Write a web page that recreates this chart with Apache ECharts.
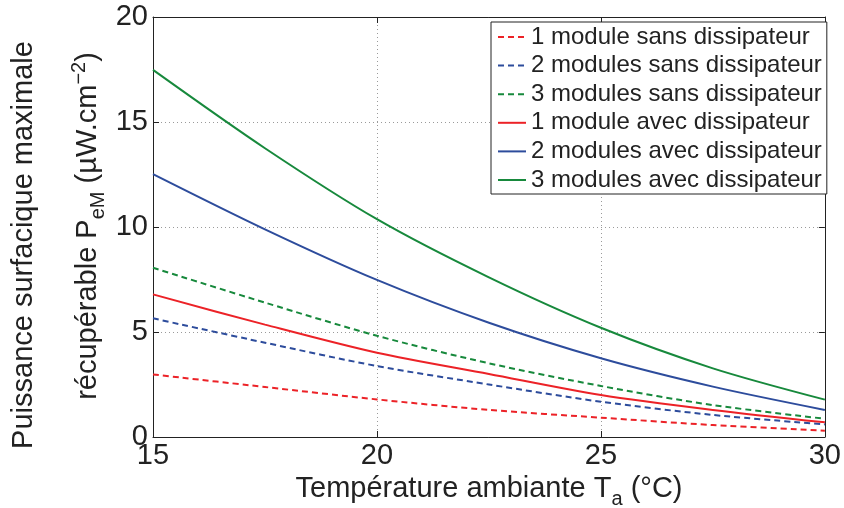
<!DOCTYPE html>
<html>
<head>
<meta charset="utf-8">
<script src="https://cdn.jsdelivr.net/npm/echarts@6/dist/echarts.min.js"></script>
<style>
html,body{margin:0;padding:0;background:#fff;}
#chart{width:844px;height:508px;}
</style>
</head>
<body>
<div id="chart"></div>
<script>
// Data
var temperatures = [15, 17.5, 20, 22.5, 25, 27.5, 30];
var seriesNames = [
  '1 module sans dissipateur',
  '2 modules sans dissipateur',
  '3 modules sans dissipateur',
  '1 module avec dissipateur',
  '2 modules avec dissipateur',
  '3 modules avec dissipateur'
];
var oneSans   = [2.98, 2.38, 1.79, 1.29, 0.92, 0.57, 0.30];
var twoSans   = [5.65, 4.49, 3.38, 2.50, 1.68, 1.05, 0.60];
var threeSans = [8.06, 6.40, 4.82, 3.51, 2.43, 1.52, 0.87];
var oneAvec   = [6.79, 5.35, 4.01, 3.00, 2.00, 1.29, 0.70];
var twoAvec   = [12.52, 9.89, 7.48, 5.44, 3.75, 2.40, 1.29];
var threeAvec = [17.48, 13.75, 10.37, 7.60, 5.20, 3.27, 1.78];
var xTicks = [15, 20, 25, 30];
var yTicks = [0, 5, 10, 15, 20];

var RED = '#ec2227', BLUE = '#2d4c9c', GREEN = '#17893c';
var FONT = '"Liberation Sans", Arial, Helvetica, sans-serif';
var TXT = '#222';

function pairs(vals) {
  return temperatures.map(function (t, i) { return [t, vals[i]]; });
}
var allData = [oneSans, twoSans, threeSans, oneAvec, twoAvec, threeAvec];
var colors = [RED, BLUE, GREEN, RED, BLUE, GREEN];
var dashed = [true, true, true, false, false, false];

var series = allData.map(function (vals, i) {
  return {
    name: seriesNames[i],
    type: 'line',
    data: pairs(vals),
    smooth: 0.3,
    showSymbol: false,
    symbol: 'none',
    animation: false,
    color: colors[i],
    itemStyle: { color: colors[i] },
    lineStyle: { color: colors[i], width: 2, type: dashed[i] ? [6, 4] : 'solid' }
  };
});

var chart = echarts.init(document.getElementById('chart'), null, { renderer: 'canvas' });
function axisCommon() {
  return {
    axisLine: { show: true, onZero: false, lineStyle: { color: '#222', width: 1 } },
    axisTick: { show: true, inside: true, length: 6, lineStyle: { color: '#222' } }
  };
}
chart.setOption({
  animation: false,
  backgroundColor: '#fff',
  grid: { left: 153, right: 16, top: 17, bottom: 71, show: false },
  xAxis: [
    Object.assign({
      type: 'value', min: xTicks[0], max: xTicks[xTicks.length - 1], interval: 5,
      axisLabel: { color: TXT, fontFamily: FONT, fontSize: 29, margin: 4 },
      splitLine: { show: true, lineStyle: { color: '#9a9a9a', type: [1, 3], width: 1 } }
    }, axisCommon()),
    Object.assign({
      type: 'value', position: 'top', min: xTicks[0], max: xTicks[xTicks.length - 1], interval: 5,
      axisLabel: { show: false }, splitLine: { show: false }
    }, axisCommon())
  ],
  yAxis: [
    Object.assign({
      type: 'value', min: yTicks[0], max: yTicks[yTicks.length - 1], interval: 5,
      axisLabel: { color: TXT, fontFamily: FONT, fontSize: 29, margin: 5 },
      splitLine: { show: true, lineStyle: { color: '#9a9a9a', type: [1, 3], width: 1 } }
    }, axisCommon()),
    Object.assign({
      type: 'value', position: 'right', min: yTicks[0], max: yTicks[yTicks.length - 1], interval: 5,
      axisLabel: { show: false }, splitLine: { show: false }
    }, axisCommon())
  ],
  legend: {
    show: true,
    orient: 'vertical',
    left: 491, top: 22,
    padding: [3, 5, 2, 6],
    itemGap: 4.6,
    itemWidth: 28,
    itemHeight: 14,
    itemTextGap: 3,
    backgroundColor: '#fff',
    borderColor: '#222',
    borderWidth: 1,
    itemStyle: { opacity: 0, borderWidth: 0 },
    textStyle: { color: TXT, fontFamily: FONT, fontSize: 24, lineHeight: 24 },
    data: seriesNames
  },
  graphic: [
    {
      type: 'text', x: 24, y: 245, rotation: Math.PI / 2,
      style: { text: 'Puissance surfacique maximale', fill: TXT, font: '29px ' + FONT, align: 'center', verticalAlign: 'middle' }
    },
    {
      type: 'text', x: 88, y: 226, rotation: Math.PI / 2,
      style: {
        text: '{m|récupérable P}{sub|eM}{m| (µW.cm}{sup|−2}{m|)}',
        align: 'center', verticalAlign: 'middle',
        rich: {
          m: { fontFamily: FONT, fontSize: 29, fill: TXT, color: TXT },
          sub: { fontFamily: FONT, fontSize: 20, fill: TXT, color: TXT, padding: [20, 0, 0, 0] },
          sup: { fontFamily: FONT, fontSize: 20, fill: TXT, color: TXT, padding: [0, 0, 18, 0] }
        }
      }
    },
    {
      type: 'text', x: 489, y: 489,
      style: {
        text: '{m|Température ambiante T}{sub|a}{m| (°C)}',
        align: 'center', verticalAlign: 'middle',
        rich: {
          m: { fontFamily: FONT, fontSize: 29, fill: TXT, color: TXT },
          sub: { fontFamily: FONT, fontSize: 20, fill: TXT, color: TXT, padding: [20, 0, 0, 0] }
        }
      }
    }
  ],
  series: series
});
</script>
</body>
</html>
